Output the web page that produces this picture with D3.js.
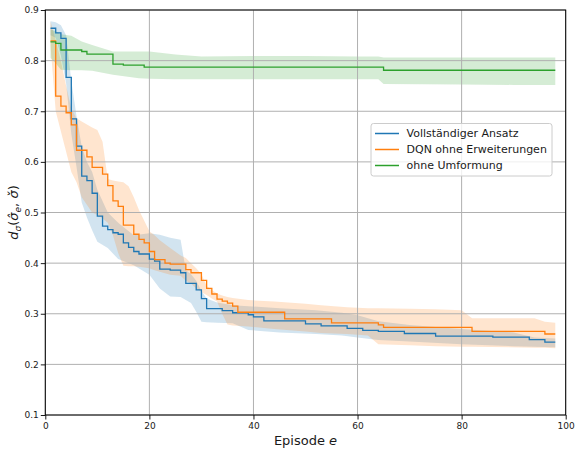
<!DOCTYPE html>
<html>
<head>
<meta charset="utf-8">
<script src="https://cdn.jsdelivr.net/npm/d3@7"></script>
<style>
  body { margin: 0; background: #fff; }
  text { font-family: "DejaVu Sans", sans-serif; fill: #1a1a1a; }
</style>
</head>
<body>
<svg id="chart" width="575" height="449"></svg>
<script>
// series names + colours (matplotlib defaults)
const seriesNames = ["Vollständiger Ansatz", "DQN ohne Erweiterungen", "ohne Umformung"];
const seriesColors = ["#1f77b4", "#ff7f0e", "#2ca02c"];
const lastEpisode = 98;

// mean curves: [episode where value starts, value] (drawn as steps)
const blueSteps = [[1,0.864],[2,0.855],[3,0.844],[4,0.767],[5,0.685],[6,0.631],[7,0.572],[8,0.563],[9,0.538],[10,0.493],
  [11,0.473],[12,0.466],[13,0.460],[14,0.457],[15,0.440],[16,0.431],[17,0.423],[18,0.418],[20,0.408],[21,0.404],
  [22,0.388],[24,0.386],[26,0.381],[27,0.360],[29,0.347],[30,0.330],[31,0.310],[34,0.306],[36,0.302],[39,0.298],
  [40,0.294],[42,0.286],[50,0.280],[53,0.276],[58,0.271],[61,0.267],[64,0.265],[69,0.261],[75,0.256],[86,0.254],
  [93,0.249],[96,0.244]];
const orangeSteps = [[1,0.839],[2,0.730],[3,0.710],[4,0.697],[5,0.673],[6,0.623],[8,0.610],[9,0.589],[11,0.576],[12,0.553],
  [13,0.523],[14,0.512],[15,0.475],[17,0.457],[18,0.447],[19,0.440],[20,0.423],[21,0.407],[23,0.400],[24,0.398],
  [27,0.387],[28,0.381],[30,0.366],[31,0.350],[32,0.339],[33,0.329],[34,0.325],[35,0.321],[36,0.315],[37,0.303],
  [46,0.290],[55,0.282],[64,0.278],[65,0.273],[82,0.265],[96,0.260]];
const greenSteps = [[1,0.837],[2,0.834],[3,0.821],[7,0.818],[8,0.813],[13,0.793],[15,0.791],[19,0.787],[65,0.781]];

// spread bands: [episode, lower, upper]
const blueBand = [[1,0.850,0.878],[2,0.845,0.876],[3,0.810,0.870],[4,0.755,0.850],[5,0.655,0.760],[6,0.590,0.690],
  [7,0.520,0.630],[8,0.490,0.600],[9,0.465,0.580],[10,0.442,0.545],[12,0.430,0.500],[14,0.408,0.480],[17,0.396,0.455],
  [20,0.377,0.459],[22,0.350,0.456],[24,0.334,0.450],[26,0.333,0.446],[27,0.327,0.386],[28,0.321,0.378],[29,0.304,0.365],
  [30,0.284,0.345],[31,0.283,0.330],[33,0.282,0.322],[36,0.281,0.317],[39,0.268,0.315],[45,0.263,0.311],[52,0.260,0.307],
  [57,0.257,0.302],[60,0.253,0.297],[64,0.248,0.285],[70,0.245,0.278],[80,0.240,0.270],[90,0.236,0.263],[94,0.235,0.253],
  [98,0.234,0.251]];
const orangeBand = [[1,0.830,0.878],[2,0.700,0.840],[3,0.660,0.800],[4,0.620,0.750],[5,0.580,0.705],[6,0.560,0.686],
  [7,0.530,0.680],[9,0.500,0.668],[10,0.495,0.663],[11,0.488,0.640],[12,0.480,0.566],[13,0.455,0.563],[14,0.420,0.561],
  [15,0.395,0.560],[16,0.394,0.552],[17,0.394,0.530],[18,0.393,0.505],[20,0.390,0.463],[21,0.386,0.455],[22,0.383,0.445],
  [24,0.377,0.430],[26,0.375,0.415],[27,0.365,0.410],[28,0.360,0.400],[29,0.350,0.390],[30,0.343,0.378],[31,0.337,0.355],
  [32,0.330,0.347],[33,0.324,0.340],[34,0.300,0.336],[35,0.279,0.333],[36,0.277,0.331],[39,0.275,0.327],[44,0.270,0.324],
  [50,0.265,0.320],[53,0.262,0.317],[58,0.260,0.313],[62,0.257,0.311],[64,0.240,0.311],[70,0.238,0.310],[75,0.236,0.309],
  [80,0.235,0.307],[82,0.235,0.291],[94,0.233,0.291],[96,0.233,0.284],[98,0.232,0.282]];
const greenBand = [[1,0.805,0.862],[2,0.795,0.858],[3,0.782,0.852],[5,0.781,0.849],[7,0.781,0.838],[9,0.780,0.831],
  [13,0.772,0.818],[18,0.765,0.818],[20,0.764,0.818],[25,0.763,0.812],[30,0.763,0.808],[40,0.763,0.809],[50,0.763,0.809],
  [60,0.763,0.808],[64,0.763,0.808],[65,0.754,0.806],[80,0.753,0.806],[90,0.752,0.806],[98,0.752,0.806]];

const xTicks = [0, 20, 40, 60, 80, 100];
const yTicks = [0.1, 0.2, 0.3, 0.4, 0.5, 0.6, 0.7, 0.8, 0.9];

const svg = d3.select("#chart");
const plotLeft = 45.3, plotRight = 565.7, plotTop = 10, plotBottom = 415;

const x = d3.scaleLinear().domain([0, 100]).range([plotLeft, plotRight]);
const y = d3.scaleLinear().domain([0.1, 0.9]).range([plotBottom, plotTop]);

const steps = [blueSteps, orangeSteps, greenSteps];
const bands = [blueBand, orangeBand, greenBand];

// bands first (under grid + lines)
const area = d3.area()
    .x(d => x(d[0]))
    .y0(d => y(d[1]))
    .y1(d => y(d[2]));

bands.forEach((b, i) => {
    svg.append("path")
        .attr("d", area(b))
        .attr("fill", seriesColors[i])
        .attr("fill-opacity", 0.2)
        .attr("stroke", "none");
});

// grid
const grid = svg.append("g");
xTicks.forEach(t => {
    grid.append("line")
        .attr("x1", x(t)).attr("x2", x(t))
        .attr("y1", plotTop).attr("y2", plotBottom)
        .attr("stroke", "#b0b0b0").attr("stroke-width", 1);
});
yTicks.forEach(t => {
    grid.append("line")
        .attr("x1", plotLeft).attr("x2", plotRight)
        .attr("y1", y(t)).attr("y2", y(t))
        .attr("stroke", "#b0b0b0").attr("stroke-width", 1);
});

// mean step lines
const line = d3.line()
    .x(d => x(d[0]))
    .y(d => y(d[1]))
    .curve(d3.curveStepAfter);

steps.forEach((s, i) => {
    const pts = s.concat([[lastEpisode, s[s.length - 1][1]]]);
    svg.append("path")
        .attr("d", line(pts))
        .attr("fill", "none")
        .attr("stroke", seriesColors[i])
        .attr("stroke-width", 1.3);
});

// axes
const xAxis = d3.axisBottom(x).tickValues(xTicks).tickSize(4.5).tickPadding(3).tickFormat(d3.format("d"));
const yAxis = d3.axisLeft(y).tickValues(yTicks).tickSize(4.5).tickPadding(2).tickFormat(d3.format(".1f"));

const gx = svg.append("g").attr("transform", `translate(0,${plotBottom})`).call(xAxis);
const gy = svg.append("g").attr("transform", `translate(${plotLeft},0)`).call(yAxis);
[gx, gy].forEach(g => {
    g.select(".domain").remove();
    g.selectAll(".tick line").attr("stroke", "#000").attr("stroke-width", 0.9);
    g.selectAll(".tick text").attr("font-size", 9).attr("fill", "#1a1a1a")
        .attr("font-family", "DejaVu Sans");
});

// frame
svg.append("rect")
    .attr("x", plotLeft).attr("y", plotTop)
    .attr("width", plotRight - plotLeft).attr("height", plotBottom - plotTop)
    .attr("fill", "none").attr("stroke", "#000").attr("stroke-width", 1);

// x label
const xl = svg.append("text")
    .attr("x", (plotLeft + plotRight) / 2).attr("y", 445)
    .attr("text-anchor", "middle").attr("font-size", 13);
xl.append("tspan").text("Episode ");
xl.append("tspan").attr("font-style", "italic").text("e");

// y label  d_σ(σ̂_e, σ̌)
const yl = svg.append("text")
    .attr("transform", `translate(18,${(plotTop + plotBottom) / 2}) rotate(-90)`)
    .attr("text-anchor", "middle").attr("font-size", 13);
yl.append("tspan").attr("font-style", "italic").text("d");
yl.append("tspan").attr("font-style", "italic").attr("font-size", 9).attr("dy", 3).text("σ");
yl.append("tspan").attr("dy", -3).text("(");
yl.append("tspan").attr("font-style", "italic").text("σ\u0302");
yl.append("tspan").attr("font-style", "italic").attr("font-size", 9).attr("dy", 3).text("e");
yl.append("tspan").attr("dy", -3).text(", ");
yl.append("tspan").attr("font-style", "italic").text("σ\u030C");
yl.append("tspan").text(")");

// legend
const lg = svg.append("g").attr("transform", "translate(371,123.5)");
lg.append("rect")
    .attr("width", 181).attr("height", 52.5).attr("rx", 2.5)
    .attr("fill", "#fff").attr("fill-opacity", 0.8)
    .attr("stroke", "#cccccc").attr("stroke-width", 1);
seriesNames.forEach((name, i) => {
    const yy = 10 + i * 16;
    lg.append("line")
        .attr("x1", 4).attr("x2", 28)
        .attr("y1", yy).attr("y2", yy)
        .attr("stroke", seriesColors[i]).attr("stroke-width", 1.5);
    lg.append("text")
        .attr("x", 35.5).attr("y", yy)
        .attr("dominant-baseline", "central")
        .attr("font-size", 11)
        .text(name);
});
</script>
</body>
</html>
